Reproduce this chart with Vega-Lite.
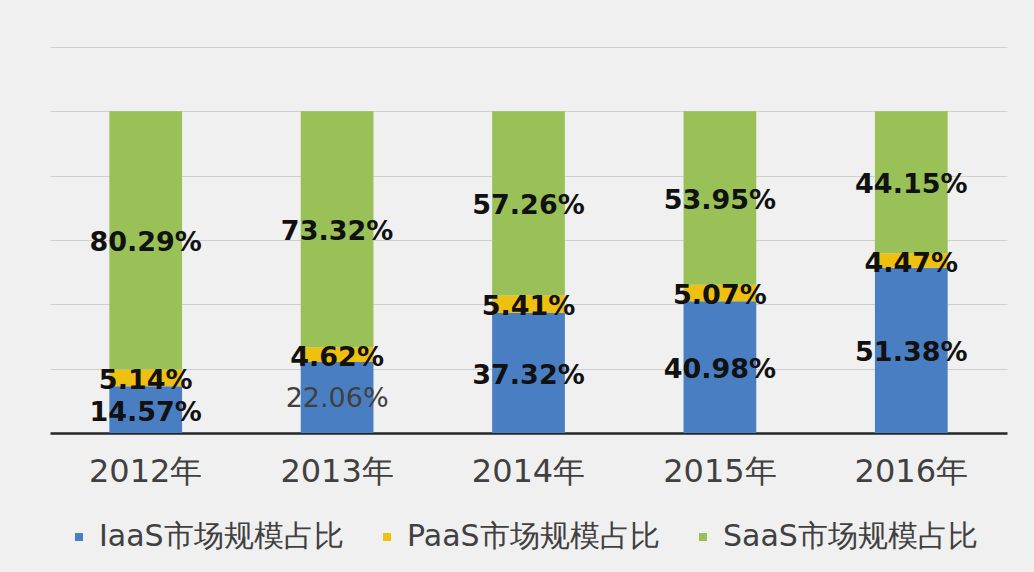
{
  "$schema": "https://vega.github.io/schema/vega-lite/v6.json",
  "width": 957,
  "height": 386,
  "autosize": "none",
  "padding": {"left": 50, "top": 47, "right": 27, "bottom": 139},
  "background": "#f0f0f0",
  "config": {"view": {"stroke": null}, "font": "DejaVu Sans"},
  "data": {
    "values": [
      {"year": "2012年", "type": "IaaS市场规模占比", "order": 1, "value": 0.1457},
      {"year": "2012年", "type": "PaaS市场规模占比", "order": 2, "value": 0.0514},
      {"year": "2012年", "type": "SaaS市场规模占比", "order": 3, "value": 0.8029},
      {"year": "2013年", "type": "IaaS市场规模占比", "order": 1, "value": 0.2206},
      {"year": "2013年", "type": "PaaS市场规模占比", "order": 2, "value": 0.0462},
      {"year": "2013年", "type": "SaaS市场规模占比", "order": 3, "value": 0.7332},
      {"year": "2014年", "type": "IaaS市场规模占比", "order": 1, "value": 0.3732},
      {"year": "2014年", "type": "PaaS市场规模占比", "order": 2, "value": 0.0541},
      {"year": "2014年", "type": "SaaS市场规模占比", "order": 3, "value": 0.5726},
      {"year": "2015年", "type": "IaaS市场规模占比", "order": 1, "value": 0.4098},
      {"year": "2015年", "type": "PaaS市场规模占比", "order": 2, "value": 0.0507},
      {"year": "2015年", "type": "SaaS市场规模占比", "order": 3, "value": 0.5395},
      {"year": "2016年", "type": "IaaS市场规模占比", "order": 1, "value": 0.5138},
      {"year": "2016年", "type": "PaaS市场规模占比", "order": 2, "value": 0.0447},
      {"year": "2016年", "type": "SaaS市场规模占比", "order": 3, "value": 0.4415}
    ]
  },
  "transform": [
    {"stack": "value", "groupby": ["year"], "sort": [{"field": "order", "order": "ascending"}], "as": ["v0", "v1"]},
    {"calculate": "(datum.v0 + datum.v1) / 2", "as": "mid"}
  ],
  "encoding": {
    "x": {
      "field": "year",
      "type": "nominal",
      "sort": null,
      "scale": {"paddingInner": 0.62, "paddingOuter": 0.31},
      "axis": {
        "title": null,
        "labelAngle": 0,
        "labelFontSize": 32,
        "labelColor": "#404040",
        "labelPadding": 23,
        "ticks": false,
        "domainColor": "#262626",
        "domainWidth": 2.5,
        "grid": false
      }
    }
  },
  "layer": [
    {
      "mark": {"type": "bar"},
      "encoding": {
        "y": {
          "field": "v0",
          "type": "quantitative",
          "scale": {"domain": [0, 1.2], "nice": false},
          "axis": {
            "title": null,
            "labels": false,
            "ticks": false,
            "domain": false,
            "values": [0.2, 0.4, 0.6, 0.8, 1.0, 1.2],
            "gridColor": "#d0d0d0",
            "gridWidth": 1.2
          }
        },
        "y2": {"field": "v1"},
        "color": {
          "field": "type",
          "type": "nominal",
          "scale": {
            "domain": ["IaaS市场规模占比", "PaaS市场规模占比", "SaaS市场规模占比"],
            "range": ["#4a7ec2", "#f0c010", "#99c157"]
          },
          "legend": {
            "title": null,
            "orient": "none",
            "direction": "horizontal",
            "legendX": 14,
            "legendY": 475,
            "symbolType": "square",
            "symbolSize": 64,
            "symbolStrokeWidth": 0,
            "labelFontSize": 30,
            "labelColor": "#404040",
            "labelOffset": 5,
            "columnPadding": 28,
            "labelLimit": 400
          }
        }
      }
    },
    {
      "transform": [{"filter": "!(datum.year == '2013年' && datum.order == 1)"}],
      "mark": {"type": "text", "fontSize": 27, "fontWeight": "bold", "color": "#111111", "baseline": "middle", "dy": 3},
      "encoding": {
        "y": {"field": "mid", "type": "quantitative"},
        "text": {"field": "value", "type": "quantitative", "format": ".2%"}
      }
    },
    {
      "transform": [{"filter": "datum.year == '2013年' && datum.order == 1"}],
      "mark": {"type": "text", "fontSize": 27, "fontWeight": "normal", "color": "#404040", "baseline": "middle", "dy": 1},
      "encoding": {
        "y": {"field": "mid", "type": "quantitative"},
        "text": {"field": "value", "type": "quantitative", "format": ".2%"}
      }
    }
  ]
}
